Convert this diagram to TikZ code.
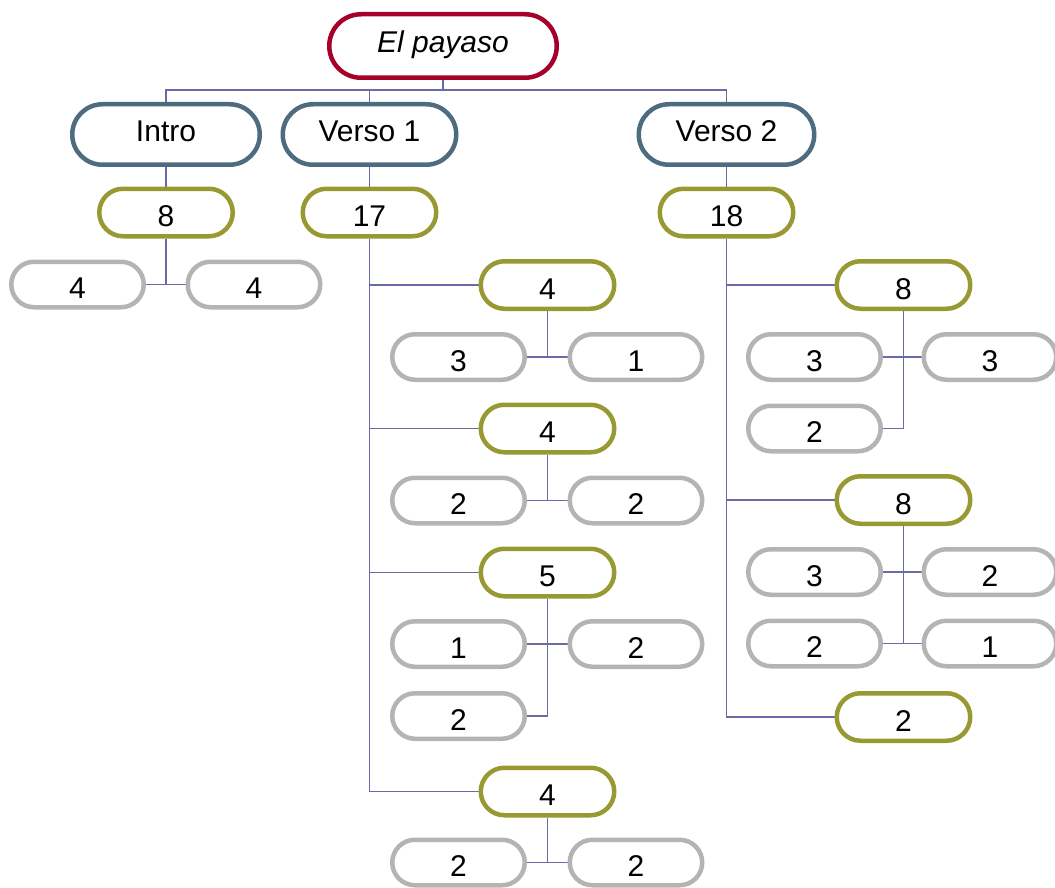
\documentclass[tikz,border=0pt]{standalone}
\usepackage{fontspec}
\setmainfont{Liberation Sans}
\usetikzlibrary{shapes.misc,backgrounds}
\definecolor{rootred}{RGB}{166,0,42}
\definecolor{lvlblue}{RGB}{78,108,128}
\definecolor{olive}{RGB}{153,153,51}
\definecolor{lightgray}{RGB}{180,180,180}
\definecolor{conn}{RGB}{106,106,168}
\tikzset{
  box/.style={rounded rectangle, draw, fill=white, line width=4.5pt, inner sep=0pt,
    font=\fontsize{30}{36}\selectfont},
  topbox/.style={box, text height=21.5pt, text depth=8pt},
  lowbox/.style={box, text height=28.5pt, text depth=0pt},
  rootbox/.style={topbox, draw=rootred, minimum width=227.5pt, minimum height=63.5pt},
  secbox/.style={topbox, draw=lvlblue, minimum height=60.5pt},
  olivebox/.style={lowbox, draw=olive, minimum width=133.5pt, minimum height=47.5pt},
  graybox/.style={lowbox, draw=lightgray, minimum width=132.5pt, minimum height=45.5pt},
  link/.style={draw=conn, line width=1.4pt}
}
\begin{document}
\begin{tikzpicture}[x=1pt,y=-1pt]
\useasboundingbox (0,0) rectangle (1055,888);
% level 0 and 1
\node[rootbox] (root) at (443,46) {\itshape El payaso};
\node[secbox, minimum width=187.5pt] (intro) at (166,134.5) {Intro};
\node[secbox, minimum width=173.5pt] (v1) at (369.5,134.5) {Verso 1};
\node[secbox, minimum width=175.5pt] (v2) at (726.5,134.5) {Verso 2};
\coordinate (j0) at (443,90);
% level 2
\node[olivebox] (i8) at (166,212.5) {8};
\node[olivebox] (n17) at (369.5,212.5) {17};
\node[olivebox] (n18) at (726.5,212.5) {18};
% intro children
\node[graybox] (g4a) at (77.5,284.5) {4};
\node[graybox] (g4b) at (254,284.5) {4};
% verso 1 children
\node[olivebox] (a4) at (547.5,285) {4};
\node[graybox] (a3) at (458.5,357) {3};
\node[graybox] (a1) at (636,357) {1};
\node[olivebox] (b4) at (547.5,428.5) {4};
\node[graybox] (b2l) at (458.5,500.5) {2};
\node[graybox] (b2r) at (636,500.5) {2};
\node[olivebox] (c5) at (547.5,572.5) {5};
\node[graybox] (c1) at (458.5,644) {1};
\node[graybox] (c2r) at (636,644) {2};
\node[graybox] (c2b) at (458.5,716) {2};
\node[olivebox] (d4) at (547.5,791.5) {4};
\node[graybox] (d2l) at (458.5,862.5) {2};
\node[graybox] (d2r) at (636,862.5) {2};
% verso 2 children
\node[olivebox] (e8) at (903.5,285) {8};
\node[graybox] (e3l) at (814.5,357) {3};
\node[graybox] (e3r) at (990,357) {3};
\node[graybox] (e2) at (814.5,428.5) {2};
\node[olivebox] (f8) at (903.5,500) {8};
\node[graybox] (f3) at (814.5,572) {3};
\node[graybox] (f2r) at (990,572) {2};
\node[graybox] (f2l) at (814.5,643.5) {2};
\node[graybox] (f1) at (990,643.5) {1};
\node[olivebox] (g2) at (903.5,717) {2};
\begin{scope}[on background layer]
  \path[link] (root.south) -- (j0);
  \path[link] (intro.north) |- (j0);
  \path[link] (v1.north) |- (j0);
  \path[link] (v2.north) |- (j0);
  \path[link] (intro.south) -- (i8.north);
  \path[link] (v1.south) -- (n17.north);
  \path[link] (v2.south) -- (n18.north);
  % intro
  \path[link] (i8.south) -- (i8.south |- g4a.east);
  \path[link] (g4a.east) -- (g4b.west);
  % verso 1 trunk
  \path[link] (n17.south) |- (a4.west);
  \path[link] (n17.south) |- (b4.west);
  \path[link] (n17.south) |- (c5.west);
  \path[link] (n17.south) |- (d4.west);
  \path[link] (a4.south) -- (a4.south |- a3.east);
  \path[link] (a3.east) -- (a1.west);
  \path[link] (b4.south) -- (b4.south |- b2l.east);
  \path[link] (b2l.east) -- (b2r.west);
  \path[link] (c5.south) |- (c2b.east);
  \path[link] (c1.east) -- (c2r.west);
  \path[link] (d4.south) -- (d4.south |- d2l.east);
  \path[link] (d2l.east) -- (d2r.west);
  % verso 2 trunk
  \path[link] (n18.south) |- (e8.west);
  \path[link] (n18.south) |- (f8.west);
  \path[link] (n18.south) |- (g2.west);
  \path[link] (e8.south) |- (e2.east);
  \path[link] (e3l.east) -- (e3r.west);
  \path[link] (f8.south) -- (f8.south |- f2l.east);
  \path[link] (f3.east) -- (f2r.west);
  \path[link] (f2l.east) -- (f1.west);
\end{scope}
\end{tikzpicture}
\end{document}
